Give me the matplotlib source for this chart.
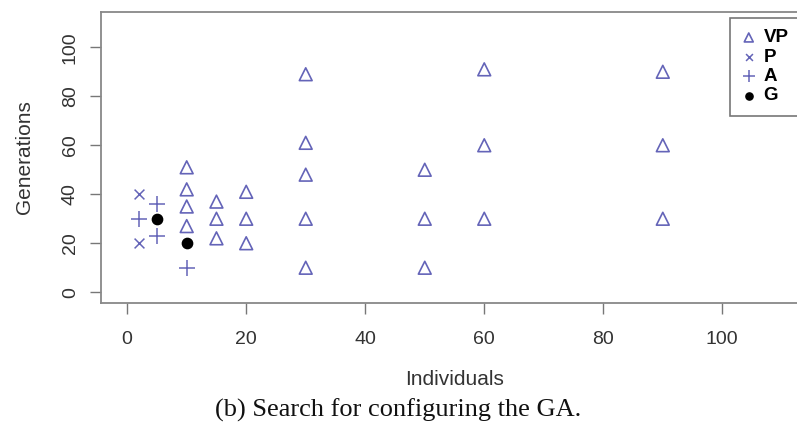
import matplotlib.pyplot as plt

# VP configurations
vp_x = [10, 10, 10, 10, 15, 15, 15, 20, 20, 20, 30, 30, 30, 30, 30, 50, 50, 50, 60, 60, 60, 90, 90, 90]
vp_y = [51, 42, 35, 27, 37, 30, 22, 41, 30, 20, 89, 61, 48, 30, 10, 50, 30, 10, 91, 60, 30, 90, 60, 30]
# P configurations
p_x = [2, 2]
p_y = [40, 20]
# A configurations
a_x = [2, 5, 5, 10]
a_y = [30, 36, 23, 10]
# G configurations
g_x = [5, 10]
g_y = [30, 20]

ticks = [0, 20, 40, 60, 80, 100]

W, H = 797, 429
fig = plt.figure(figsize=(W / 100, H / 100), dpi=100)
# axes box in pixels: left 101, right 808 (cut off), top 12, bottom 303
ax = fig.add_axes([101 / W, 1 - 303 / H, (808 - 101) / W, (303 - 12) / H])

col = "#6464b8"
ax.scatter(vp_x, vp_y, marker="^", s=85, facecolors="none", edgecolors=col, linewidths=1.2, label="VP")
ax.scatter(p_x, p_y, marker="x", s=50, color=col, linewidths=1.1, label="P")
ax.scatter(a_x, a_y, marker="+", s=130, color=col, linewidths=1.1, label="A")
ax.scatter(g_x, g_y, marker="o", s=55, color="black", label="G")

ax.set_xlim(-4.4, 114.4)
ax.set_ylim(-4.4, 114.4)

for s in ["top", "right", "left", "bottom"]:
    ax.spines[s].set_color("#888888")
    ax.spines[s].set_linewidth(1.3)
ax.set_xticks(ticks)
ax.set_yticks(ticks)
ax.set_xticklabels([str(t) for t in ticks], fontsize=14, fontfamily="Liberation Sans", color="#333333")
ax.set_yticklabels([str(t) for t in ticks], fontsize=14, fontfamily="Liberation Sans", color="#333333",
                   rotation=90, va="center")
ax.tick_params(axis="x", length=8, width=1, color="#777777", pad=12)
ax.tick_params(axis="y", length=8, width=1, color="#777777", pad=8)

ax.set_xlabel("Individuals", fontsize=15, fontfamily="Liberation Sans", color="#333333", labelpad=16)
ax.set_ylabel("Generations", fontsize=15, fontfamily="Liberation Sans", color="#333333", labelpad=20)

leg = ax.legend(loc="upper left", bbox_to_anchor=(730 / W, 1 - 18 / H), bbox_transform=fig.transFigure,
                prop={"family": "Liberation Sans", "weight": "bold", "size": 13.5},
                frameon=True, fancybox=False, edgecolor="#555555", handlelength=0.8,
                handletextpad=0.4, labelspacing=0.12, borderpad=0.6, borderaxespad=0, markerscale=0.7)
leg.get_frame().set_linewidth(1.2)

fig.text(0.5, 1 - 410 / H, "(b) Search for configuring the GA.", ha="center", va="center",
         fontsize=19, fontfamily="Liberation Serif", color="#111111")

fig.savefig("out.png", dpi=100)
